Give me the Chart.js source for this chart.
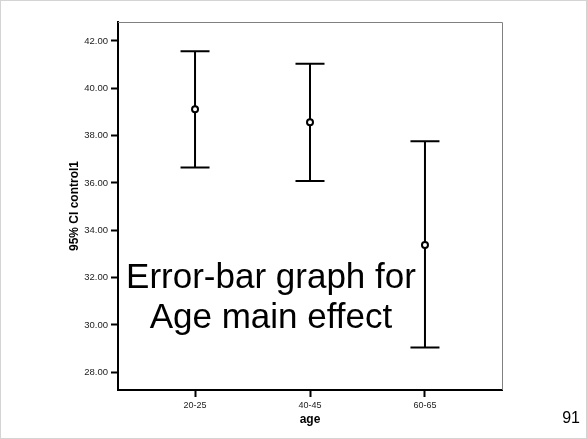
<!DOCTYPE html>
<html>
<head>
<meta charset="utf-8">
<script src="https://cdn.jsdelivr.net/npm/chart.js@4/dist/chart.umd.min.js"></script>
<style>
    body { margin: 0; background: #fff; font-family: "Liberation Sans", Arial, sans-serif; }
    #wrap { position: relative; width: 587px; height: 439px; overflow: hidden; }
    #chart { position: absolute; left: 0; top: 0; }
    #frame { position: absolute; left: 0; top: 0; width: 587px; height: 439px; box-sizing: border-box; border: 1px solid #d4d4d4; pointer-events: none; }
    .overlay { position: absolute; left: 71px; width: 400px; top: 256px; text-align: center; font-size: 35px; line-height: 40px; color: #000; }
    .pagenum { position: absolute; right: 7px; top: 410px; font-size: 16px; line-height: 16px; color: #000; }
</style>
</head>
<body>
<div id="wrap">
    <canvas id="chart" width="587" height="439"></canvas>
    <div class="overlay">Error-bar graph for<br>Age main effect</div>
    <div class="pagenum">91</div>
    <div id="frame"></div>
</div>
<script>
// =========================
// DATA
// =========================
const categories = ["20-25", "40-45", "60-65"];
const means  = [39.11, 38.56, 33.38];
const lowers = [36.65, 36.08, 29.05];
const uppers = [41.56, 41.04, 37.76];
const yTicks = [28, 30, 32, 34, 36, 38, 40, 42];

// =========================
// ERROR BARS + FRAME
// =========================
const errorBars = {
    id: "errorBars",
    beforeDatasetsDraw(chart) {
        const { ctx, scales: { x, y } } = chart;
        ctx.save();
        ctx.strokeStyle = "#000";
        ctx.lineWidth = 2;
        categories.forEach((c, i) => {
            const px = x.getPixelForValue(i);
            const top = y.getPixelForValue(uppers[i]);
            const bot = y.getPixelForValue(lowers[i]);
            ctx.beginPath();
            ctx.moveTo(px, top);
            ctx.lineTo(px, bot);
            ctx.moveTo(px - 14.5, top);
            ctx.lineTo(px + 14.5, top);
            ctx.moveTo(px - 14.5, bot);
            ctx.lineTo(px + 14.5, bot);
            ctx.stroke();
        });
        ctx.restore();
    },
    afterDraw(chart) {
        // thin grey top and right edges of the plot box
        const { ctx, chartArea: a } = chart;
        ctx.save();
        ctx.strokeStyle = "#808080";
        ctx.lineWidth = 1;
        ctx.beginPath();
        ctx.moveTo(a.left, a.top + 0.5);
        ctx.lineTo(a.right + 0.5, a.top + 0.5);
        ctx.lineTo(a.right + 0.5, a.bottom);
        ctx.stroke();
        ctx.restore();
    }
};

const tickFont = { family: "Liberation Sans", size: 9 };
const titleFont = { family: "Liberation Sans", size: 12, weight: "bold" };

new Chart(document.getElementById("chart").getContext("2d"), {
    type: "scatter",
    data: {
        datasets: [{
            data: means.map((m, i) => ({ x: i, y: m })),
            pointStyle: "circle",
            pointRadius: 3,
            pointBorderWidth: 2,
            pointBorderColor: "#000",
            pointBackgroundColor: "#fff"
        }]
    },
    options: {
        responsive: false,
        animation: false,
        layout: { padding: { left: 0, top: 22, right: 85, bottom: 0 } },
        plugins: { legend: { display: false }, tooltip: { enabled: false } },
        scales: {
            x: {
                type: "linear",
                min: -0.67,
                max: 2.67,
                afterBuildTicks: (s) => { s.ticks = categories.map((c, i) => ({ value: i })); },
                afterFit: (s) => { s.height = 49; },
                ticks: {
                    callback: (v) => categories[v],
                    color: "#222",
                    font: tickFont,
                    padding: 3,
                    maxRotation: 0
                },
                grid: { drawOnChartArea: false, tickLength: 7, tickWidth: 2, tickColor: "#000" },
                border: { color: "#000", width: 2 },
                title: { display: true, text: "age", color: "#000", font: titleFont, padding: { top: 0, bottom: 12 } }
            },
            y: {
                min: 27.25,
                max: 42.8,
                afterBuildTicks: (s) => { s.ticks = yTicks.map(v => ({ value: v })); },
                afterFit: (s) => { s.width = 118; },
                ticks: {
                    callback: (v) => v.toFixed(2),
                    color: "#222",
                    font: { family: "Liberation Sans", size: 9.5 },
                    padding: 3
                },
                grid: { drawOnChartArea: false, tickLength: 7, tickWidth: 2, tickColor: "#000" },
                border: { color: "#000", width: 2 },
                title: { display: true, text: "95% CI control1", color: "#000", font: titleFont, padding: { top: 67, bottom: 0 } }
            }
        }
    },
    plugins: [errorBars]
});
</script>
</body>
</html>
